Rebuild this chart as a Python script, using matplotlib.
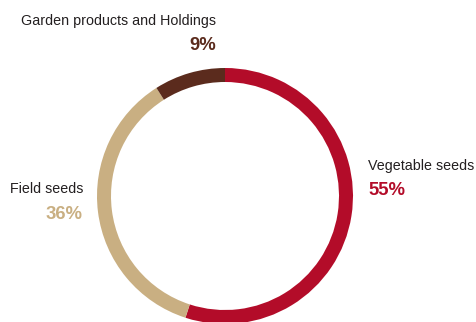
import matplotlib
matplotlib.use("Agg")
import matplotlib.pyplot as plt

# business segments, share of sales
segments = ["Vegetable seeds", "Field seeds", "Garden products and Holdings"]
shares = [55, 36, 9]
colors = ["#B30C29", "#C9AF82", "#5B2B1D"]

plt.rcParams['font.family'] = ['Liberation Sans', 'DejaVu Sans']

fig = plt.figure(figsize=(4.76, 3.22), dpi=100)
ax = fig.add_axes([0, 0, 1, 1])

# ring starts at 12 o'clock and runs clockwise
ax.pie(shares, colors=colors, startangle=90, counterclock=False,
       center=(225, 126), radius=128, frame=True,
       wedgeprops=dict(width=14, linewidth=0))

ax.set_xlim(0, 476)
ax.set_ylim(0, 322)
ax.set_aspect('equal')
ax.axis('off')

name_size = 10.3
pct_size = 13.3
text_color = '#231F20'

# labels: name in dark grey, percentage in bold segment colour
ax.text(216, 322 - 25, segments[2], ha='right', va='baseline',
        fontsize=name_size, color=text_color)
ax.text(216, 322 - 50, f"{shares[2]}%", ha='right', va='baseline',
        fontsize=pct_size, fontweight='bold', color=colors[2])

ax.text(368, 322 - 170, segments[0], ha='left', va='baseline',
        fontsize=name_size, color=text_color)
ax.text(368, 322 - 195, f"{shares[0]}%", ha='left', va='baseline',
        fontsize=pct_size, fontweight='bold', color=colors[0])

ax.text(83, 322 - 193, segments[1], ha='right', va='baseline',
        fontsize=name_size, color=text_color)
ax.text(83, 322 - 219, f"{shares[1]}%", ha='right', va='baseline',
        fontsize=pct_size, fontweight='bold', color=colors[1])

fig.savefig("out.png", dpi=100)
